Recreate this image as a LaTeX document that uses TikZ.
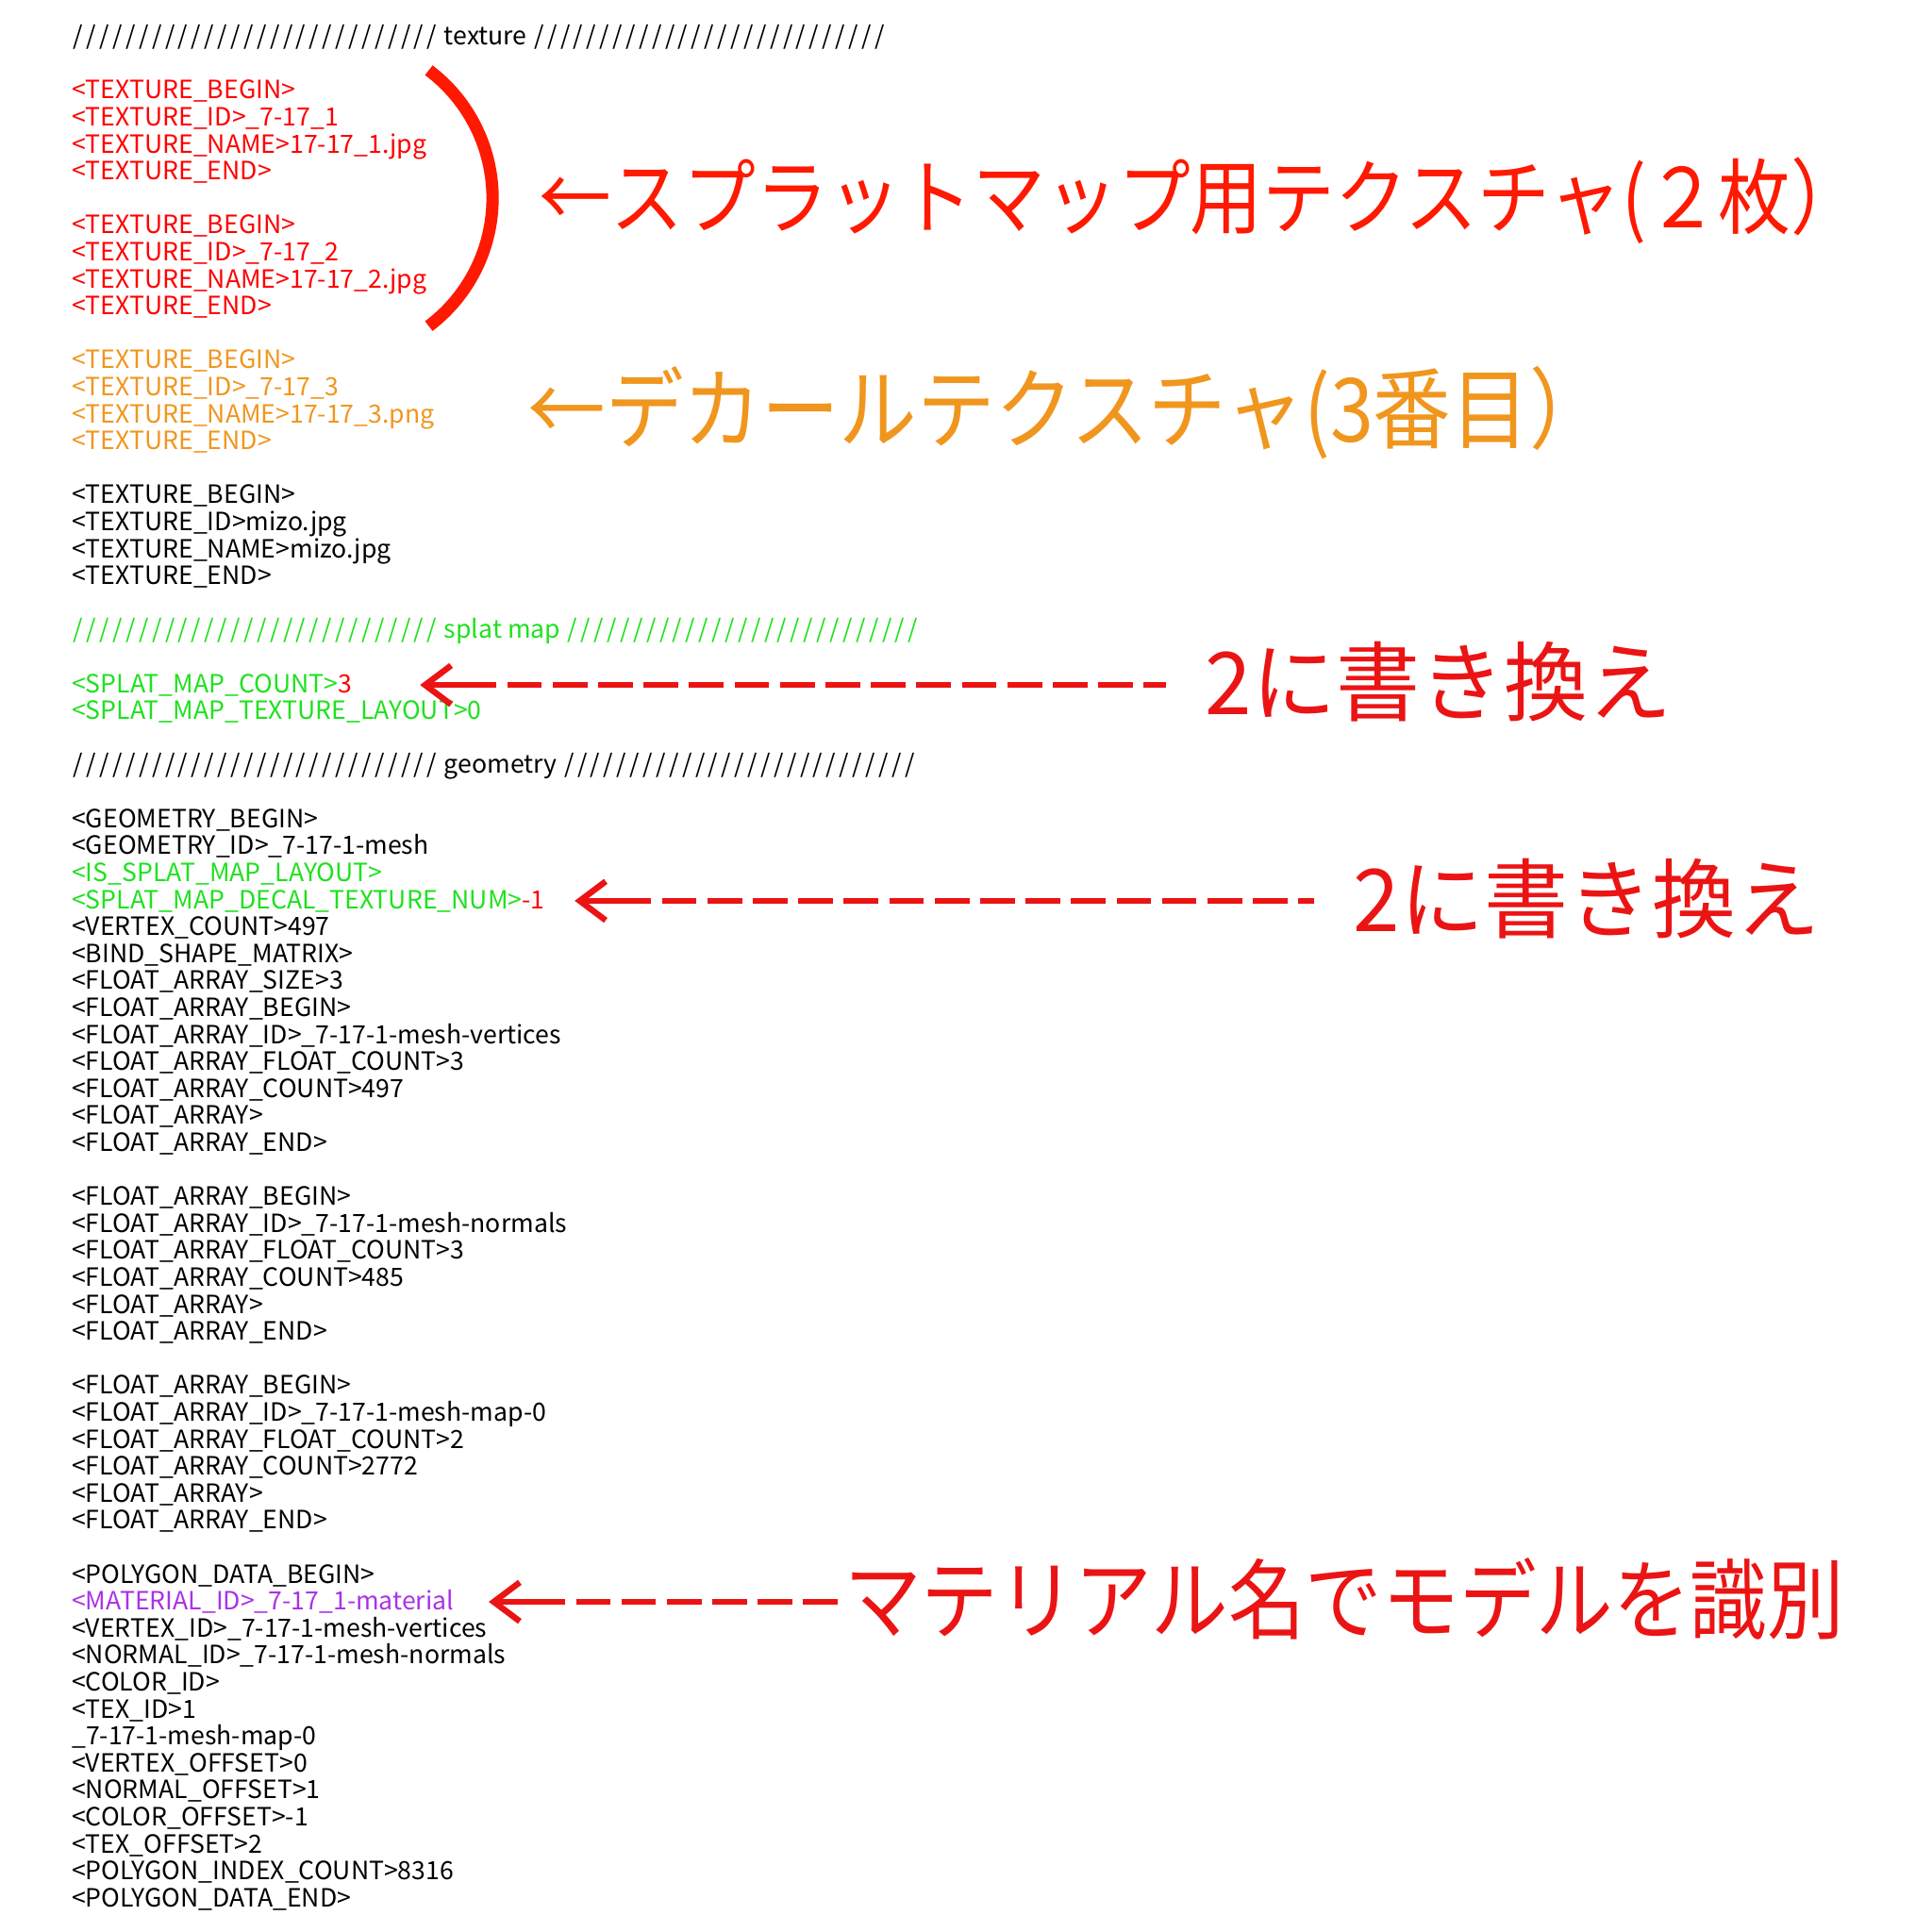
\documentclass[tikz,border=0pt]{standalone}
\usepackage{fontspec}
\setmainfont{Noto Sans CJK JP}
\newfontfamily\notefont[FakeStretch=0.88]{Noto Sans CJK JP}
\newfontfamily\markfont[FakeStretch=0.97]{Noto Sans CJK JP}
\usetikzlibrary{arrows.meta}

\definecolor{codered}{RGB}{255,0,0}
\definecolor{notered}{RGB}{255,25,0}
\definecolor{markred}{RGB}{235,20,20}
\definecolor{codeorange}{RGB}{240,150,30}
\definecolor{codegreen}{RGB}{30,225,30}
\definecolor{codepurple}{RGB}{170,50,230}

\newcommand{\codesize}{\fontsize{11.6}{12.4}\selectfont}
\newcommand{\row}[1]{36.5+21.9*#1}
\newcommand{\slashes}[1]{\foreach \k in {1,...,#1}{\makebox[6.05pt]{/}}}

\begin{document}
\begin{tikzpicture}[x=0.02cm,y=-0.02cm,
    code/.style={anchor=base west,inner sep=0pt,font=\codesize},
    note/.style={anchor=west,inner sep=0pt},
    tipline/.style={markred,line width=2.8pt,-{Straight Barb[length=12pt,width=18pt]}},
    dashline/.style={markred,line width=2.8pt,dash pattern=on 16pt off 5pt,dash phase=16pt}]
\useasboundingbox (0,0) rectangle (1568,1568);

% texture
\node[code] (texturehead) at (58,{\row{0}}) {\slashes{28} texture \slashes{27}};
\foreach \txt [count=\i from 2] in {<TEXTURE\_BEGIN>,<TEXTURE\_ID>\_7-17\_1,<TEXTURE\_NAME>17-17\_1.jpg,<TEXTURE\_END>}
    \node[code,codered] (line\i) at (58,{\row{\i}}) {\txt};
\foreach \txt [count=\i from 7] in {<TEXTURE\_BEGIN>,<TEXTURE\_ID>\_7-17\_2,<TEXTURE\_NAME>17-17\_2.jpg,<TEXTURE\_END>}
    \node[code,codered] (line\i) at (58,{\row{\i}}) {\txt};
\foreach \txt [count=\i from 12] in {<TEXTURE\_BEGIN>,<TEXTURE\_ID>\_7-17\_3,<TEXTURE\_NAME>17-17\_3.png,<TEXTURE\_END>}
    \node[code,codeorange] (line\i) at (58,{\row{\i}}) {\txt};
\foreach \txt [count=\i from 17] in {<TEXTURE\_BEGIN>,<TEXTURE\_ID>mizo.jpg,<TEXTURE\_NAME>mizo.jpg,<TEXTURE\_END>}
    \node[code] (line\i) at (58,{\row{\i}}) {\txt};

% splat map
\node[code,codegreen] (splathead) at (58,{\row{22}}) {\slashes{28} splat map \slashes{27}};
\node[code,codegreen] (count) at (58,{\row{24}}) {<SPLAT\_MAP\_COUNT>\textcolor{codered}{3}};
\node[code,codegreen] (layout) at (58,{\row{25}}) {<SPLAT\_MAP\_TEXTURE\_LAYOUT>0};

% geometry
\node[code] (geometryhead) at (58,{\row{27}}) {\slashes{28} geometry \slashes{27}};
\node[code] (line29) at (58,{\row{29}}) {<GEOMETRY\_BEGIN>};
\node[code] (line30) at (58,{\row{30}}) {<GEOMETRY\_ID>\_7-17-1-mesh};
\node[code,codegreen] (islayout) at (58,{\row{31}}) {<IS\_SPLAT\_MAP\_LAYOUT>};
\node[code,codegreen] (decalnum) at (58,{\row{32}}) {<SPLAT\_MAP\_DECAL\_TEXTURE\_NUM>\textcolor{codered}{-1}};
\foreach \txt [count=\i from 33] in {<VERTEX\_COUNT>497,<BIND\_SHAPE\_MATRIX>,<FLOAT\_ARRAY\_SIZE>3,<FLOAT\_ARRAY\_BEGIN>,<FLOAT\_ARRAY\_ID>\_7-17-1-mesh-vertices,<FLOAT\_ARRAY\_FLOAT\_COUNT>3,<FLOAT\_ARRAY\_COUNT>497,<FLOAT\_ARRAY>,<FLOAT\_ARRAY\_END>}
    \node[code] (line\i) at (58,{\row{\i}}) {\txt};
\foreach \txt [count=\i from 43] in {<FLOAT\_ARRAY\_BEGIN>,<FLOAT\_ARRAY\_ID>\_7-17-1-mesh-normals,<FLOAT\_ARRAY\_FLOAT\_COUNT>3,<FLOAT\_ARRAY\_COUNT>485,<FLOAT\_ARRAY>,<FLOAT\_ARRAY\_END>}
    \node[code] (line\i) at (58,{\row{\i}}) {\txt};
\foreach \txt [count=\i from 50] in {<FLOAT\_ARRAY\_BEGIN>,<FLOAT\_ARRAY\_ID>\_7-17-1-mesh-map-0,<FLOAT\_ARRAY\_FLOAT\_COUNT>2,<FLOAT\_ARRAY\_COUNT>2772,<FLOAT\_ARRAY>,<FLOAT\_ARRAY\_END>}
    \node[code] (line\i) at (58,{\row{\i}}) {\txt};

% polygon data
\node[code] (line57) at (58,{\row{57}}) {<POLYGON\_DATA\_BEGIN>};
\node[code,codepurple] (material) at (58,{\row{58}}) {<MATERIAL\_ID>\_7-17\_1-material};
\foreach \txt [count=\i from 59] in {<VERTEX\_ID>\_7-17-1-mesh-vertices,<NORMAL\_ID>\_7-17-1-mesh-normals,<COLOR\_ID>,<TEX\_ID>1,\_7-17-1-mesh-map-0,<VERTEX\_OFFSET>0,<NORMAL\_OFFSET>1,<COLOR\_OFFSET>-1,<TEX\_OFFSET>2,<POLYGON\_INDEX\_COUNT>8316,<POLYGON\_DATA\_END>}
    \node[code] (line\i) at (58,{\row{\i}}) {\txt};

% notes
\draw[notered,line width=5.7pt] (348,57) arc[start angle=-53,end angle=53,radius=130];
\node[note,notered,font=\notefont\fontsize{38}{38}\selectfont] (splatnote) at (437,163) {←スプラットマップ用テクスチャ(２枚）};
\node[note,codeorange,font=\notefont\fontsize{40.9}{41}\selectfont] (decalnote) at (428,335) {←デカールテクスチャ(3番目）};
\node[note,markred,font=\markfont\fontsize{40}{40}\selectfont] (countnote) at (978,553) {2に書き換え};
\node[note,markred,font=\markfont\fontsize{40}{40}\selectfont] (decalnumnote) at (1098,729) {2に書き換え};
\node[note,markred,font=\notefont\fontsize{40.4}{41}\selectfont] (materialnote) at (685,1298) {マテリアル名でモデルを識別};

% arrows
\path (count.east) ++(55,0) coordinate (counttip) ++(62,0) coordinate (counttail);
\draw[tipline] (counttail) -- (counttip);
\draw[dashline,shorten >=18pt] (counttail) -- (counttail -| countnote.west);
\path (decalnum.east) ++(24,0) coordinate (decaltip) ++(62,0) coordinate (decaltail);
\draw[tipline] (decaltail) -- (decaltip);
\draw[dashline,shorten >=18pt] (decaltail) -- (decaltail -| decalnumnote.west);
\path (material.east) ++(28,0) coordinate (materialtip) ++(62,0) coordinate (materialtail);
\draw[tipline] (materialtail) -- (materialtip);
\draw[dashline] (materialtail) -- (materialtail -| materialnote.west);
\end{tikzpicture}
\end{document}
